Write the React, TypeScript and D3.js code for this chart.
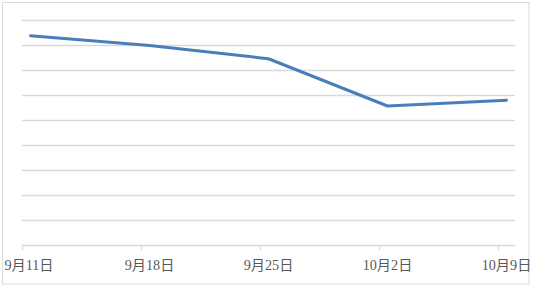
import React from "react";
import * as d3 from "d3";

const dates = ["2023-09-11", "2023-09-18", "2023-09-25", "2023-10-02", "2023-10-09"];
const values = [8.39, 8.0, 7.47, 5.58, 5.81];
const tickLabels = ["9月11日", "9月18日", "9月25日", "10月2日", "10月9日"];
const gridValues = [0, 1, 2, 3, 4, 5, 6, 7, 8, 9];

const W = 534;
const H = 288;

export default function App() {
  const parse = (s: string) => new Date(s + "T00:00:00Z");
  const x = d3
    .scaleUtc()
    .domain([parse("2023-09-11"), parse("2023-10-10")])
    .range([22, 515]);
  const y = d3.scaleLinear().domain([0, 9]).range([245.5, 20.5]);
  const half = 12 * 3600 * 1000;
  const pts: [number, number][] = dates.map((d, i) => [
    x(new Date(parse(d).getTime() + half)),
    y(values[i]),
  ]);
  const line = d3.line<[number, number]>().x((p) => p[0]).y((p) => p[1]);
  const gridColor = "#d9d9d9";
  return (
    <svg
      width={W}
      height={H}
      style={{ position: "absolute", left: 0, top: 0, background: "#fff" }}
    >
      <rect x={2.5} y={2.5} width={526.5} height={281.5} fill="#fff" stroke={gridColor} strokeWidth={1} />
      {gridValues.slice(1).map((g) => (
        <line key={g} x1={22} x2={515} y1={y(g)} y2={y(g)} stroke={gridColor} strokeWidth={1.5} />
      ))}
      <line x1={22} x2={515} y1={y(0)} y2={y(0)} stroke={gridColor} strokeWidth={1.5} />
      {dates.map((d) => {
        const tx = Math.round(x(parse(d))) + 0.5;
        return <line key={d} x1={tx} x2={tx} y1={y(0)} y2={y(0) + 5} stroke={gridColor} strokeWidth={1.2} />;
      })}
      {dates.map((d, i) => {
        let cx = x(new Date(parse(d).getTime() + half));
        if (i === 0) cx -= 1.5;
        return (
          <text
            key={d}
            x={cx}
            y={269.5}
            textAnchor="middle"
            fontSize={14.2}
            fill="#595959"
            fontFamily="'Liberation Serif', 'Noto Sans CJK SC', serif"
          >
            {tickLabels[i]}
          </text>
        );
      })}
      <path
        d={line(pts) || ""}
        fill="none"
        stroke="#4a7ebb"
        strokeWidth={3}
        strokeLinejoin="round"
        strokeLinecap="round"
      />
    </svg>
  );
}
